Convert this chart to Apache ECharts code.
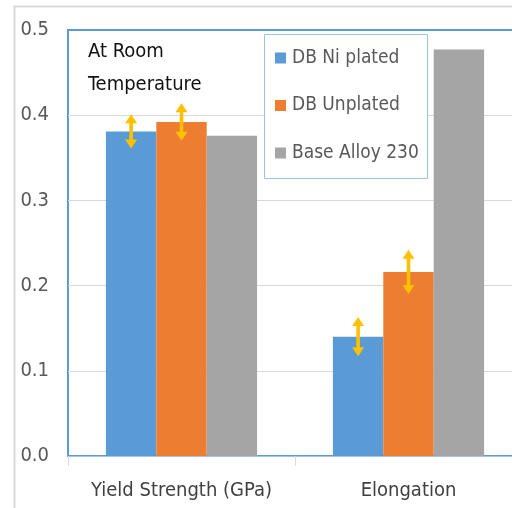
<!DOCTYPE html>
<html>
<head>
<meta charset="utf-8">
<script src="https://cdn.jsdelivr.net/npm/echarts@6/dist/echarts.min.js"></script>
<style>
  html, body { margin: 0; padding: 0; background: #fff; overflow: hidden; }
  /* the original plot runs a little past the right edge of the picture */
  #chart { width: 540px; height: 508px; }
</style>
</head>
<body>
<div id="chart"></div>
<script>
const categories = ['Yield Strength (GPa)', 'Elongation'];
const seriesNames = ['DB Ni plated', 'DB Unplated', 'Base Alloy 230'];
const niPlated = [0.381, 0.140];
const unplated = [0.392, 0.216];
const baseAlloy = [0.376, 0.477];
// +/- spread drawn as yellow arrows (only for the DB samples)
const niPlatedErr = [0.020, 0.023];
const unplatedErr = [0.022, 0.026];

const colors = ['#5B9BD5', '#ED7D31', '#A5A5A5'];
const FONT = "'Liberation Sans Narrow', 'DejaVu Sans Condensed', 'Noto Sans', sans-serif";
const BAR_FRAC = 0.222;

const chart = echarts.init(document.getElementById('chart'), null, { renderer: 'canvas' });

function arrowItem(seriesIdx) {
  return function (params, api) {
    const cat = api.value(0);
    const val = api.value(1);
    const err = api.value(2);
    const band = api.size([1, 0])[0];
    const x = api.coord([cat, val])[0] + (seriesIdx - 1) * band * BAR_FRAC;
    const top = api.coord([cat, val + err])[1];
    const bot = api.coord([cat, val - err])[1];
    const hw = 6, hh = 9, sw = 1.8;
    return {
      type: 'polygon',
      shape: {
        points: [
          [x, top], [x + hw, top + hh], [x + sw, top + hh],
          [x + sw, bot - hh], [x + hw, bot - hh], [x, bot],
          [x - hw, bot - hh], [x - sw, bot - hh], [x - sw, top + hh],
          [x - hw, top + hh]
        ]
      },
      style: { fill: '#FFC000' }
    };
  };
}

const option = {
  backgroundColor: '#fff',
  animation: false,
  textStyle: { fontFamily: FONT },
  grid: {
    left: 68, right: 18, top: 30, bottom: 52,
    show: true, borderColor: '#5B9BD5', borderWidth: 2
  },
  legend: {
    data: seriesNames,
    orient: 'vertical',
    left: 264, top: 34,
    padding: [13, 10, 13, 11],
    itemGap: 25.5,
    itemWidth: 11, itemHeight: 11,
    icon: 'rect',
    z: 5,
    textStyle: { fontFamily: FONT, fontSize: 19, color: '#595959', lineHeight: 22, padding: [0, 0, 0, 1] }
  },
  graphic: [
    {
      type: 'rect', left: 12, top: 4, z: 0,
      shape: { width: 620, height: 620 },
      style: { fill: 'none', stroke: '#D9D9D9', lineWidth: 2 }
    },
    {
      type: 'rect', left: 264, top: 34, z: 4,
      shape: { width: 163, height: 144 },
      style: { fill: '#fff', stroke: '#9DC3E6', lineWidth: 1 }
    },
    {
      type: 'text', left: 88, top: 35, z: 5,
      style: {
        text: 'At Room\nTemperature',
        font: '20px ' + FONT,
        lineHeight: 33,
        fill: '#111'
      }
    }
  ],
  xAxis: {
    type: 'category',
    data: categories,
    axisLine: { show: true, lineStyle: { color: '#9DC3E6', width: 1 } },
    axisTick: { show: true, length: 10, lineStyle: { color: '#D9D9D9' } },
    axisLabel: { color: '#404040', fontSize: 20, margin: 25, interval: 0, fontFamily: FONT }
  },
  yAxis: {
    type: 'value',
    min: 0, max: 0.5, interval: 0.1,
    axisLine: { show: false },
    axisTick: { show: false },
    splitLine: { showMinLine: false, showMaxLine: false, lineStyle: { color: '#D9D9D9' } },
    axisLabel: {
      color: '#595959', fontSize: 20, margin: 19, fontFamily: FONT,
      formatter: v => v.toFixed(1)
    }
  },
  series: [
    { name: seriesNames[0], type: 'bar', data: niPlated, barWidth: (BAR_FRAC * 100) + '%', barGap: '0%', itemStyle: { color: colors[0] } },
    { name: seriesNames[1], type: 'bar', data: unplated, barWidth: (BAR_FRAC * 100) + '%', barGap: '0%', itemStyle: { color: colors[1] } },
    { name: seriesNames[2], type: 'bar', data: baseAlloy, barWidth: (BAR_FRAC * 100) + '%', barGap: '0%', itemStyle: { color: colors[2] } },
    {
      type: 'custom', z: 3,
      renderItem: arrowItem(0),
      data: niPlated.map((v, i) => [i, v, niPlatedErr[i]])
    },
    {
      type: 'custom', z: 3,
      renderItem: arrowItem(1),
      data: unplated.map((v, i) => [i, v, unplatedErr[i]])
    }
  ]
};

chart.setOption(option);
</script>
</body>
</html>
